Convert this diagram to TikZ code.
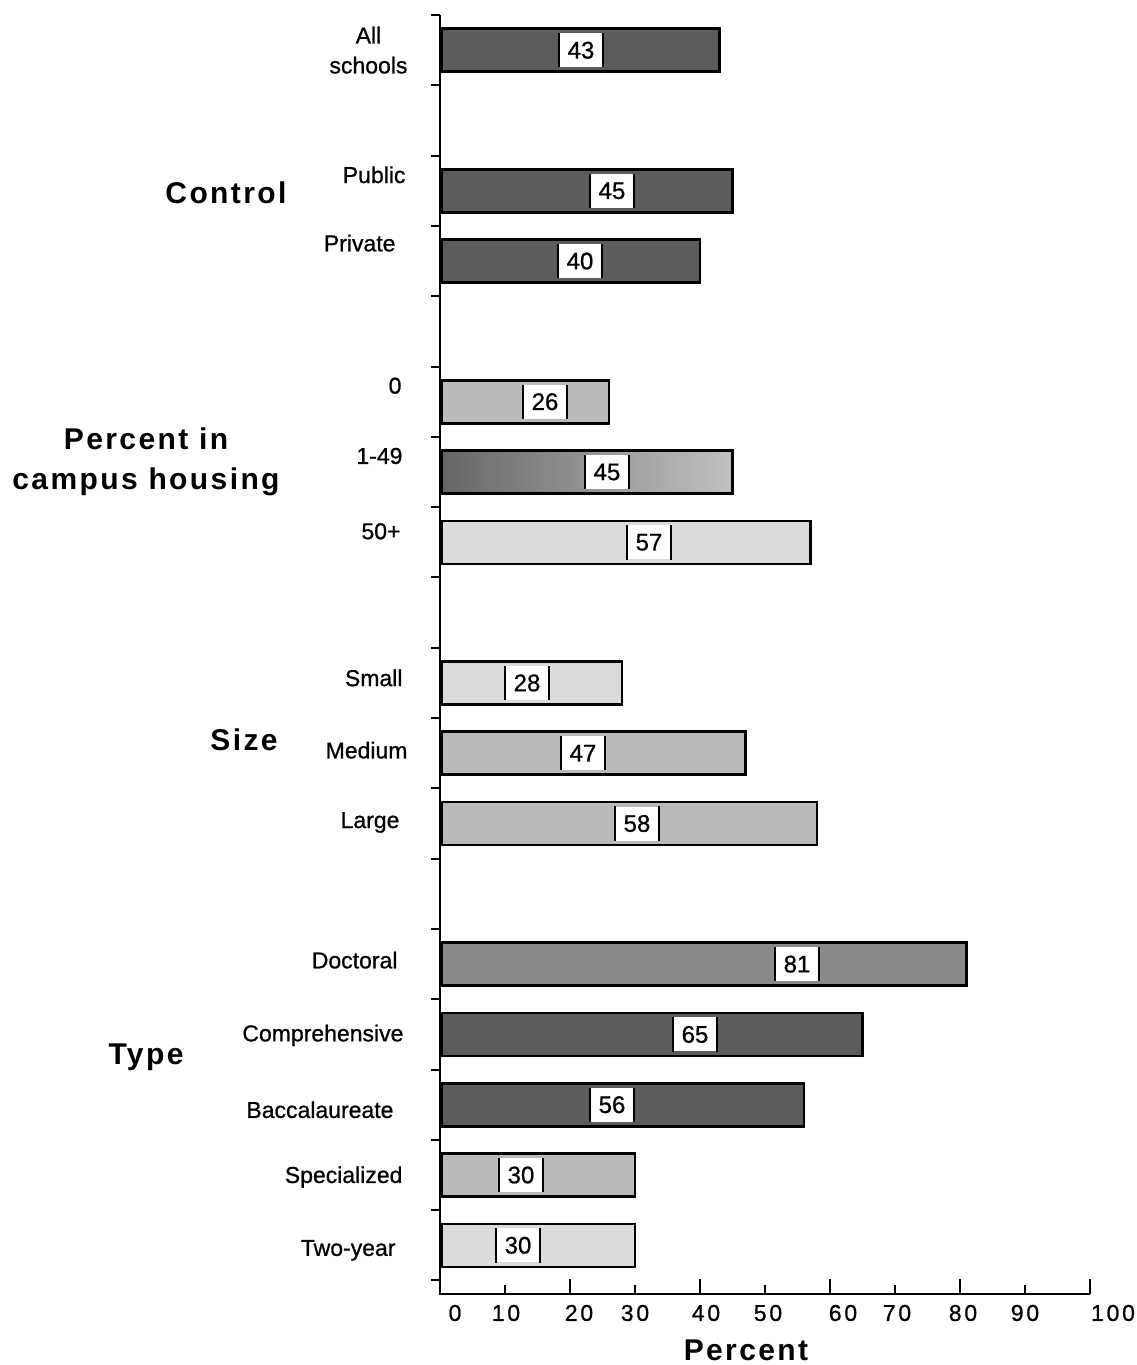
\documentclass[tikz,border=0pt]{standalone}
\usepackage{fontspec}
\setmainfont{Liberation Sans}
\usetikzlibrary{positioning}

\tikzset{
  axis/.style={draw=black, line width=2pt},
  bar/.style={draw=black, line width=2.6pt},
  shA/.style={fill=black!64},
  shB/.style={fill=black!46},
  shC/.style={fill=black!27},
  shD/.style={fill=black!14},
  shmix/.style={left color=black!60, right color=black!24},
  numbox/.style={fill=white, inner sep=0pt, minimum width=44pt, minimum height=34pt,
    font=\fontsize{24}{24}\selectfont\addfontfeature{FakeBold=0.8}},
  catlabel/.style={anchor=east, align=center, font=\fontsize{23}{30}\selectfont\addfontfeature{FakeBold=0.8}},
  grouplabel/.style={align=center, font=\fontsize{30}{40}\selectfont\bfseries\addfontfeature{LetterSpace=8}},
  ticklabel/.style={font=\fontsize{23}{23}\selectfont\addfontfeature{LetterSpace=12,FakeBold=0.8}},
}

\begin{document}
\begin{tikzpicture}[x=1pt,y=-1pt]
\useasboundingbox (0,0) rectangle (1136,1365);

% axes
\coordinate (top) at (440,15);
\coordinate (origin) at (440,1294);
\coordinate (xend) at (1090,1294);
\draw[axis] (top) -- (origin) -- (xend);
\foreach \k in {0,...,18}
  \draw[axis] (440,15+70.3*\k) -- ++(-9,0);
\foreach \v in {10,30,...,90}
  \draw[axis] (440+6.5*\v,1294) -- ++(0,-9);
\foreach \v in {20,40,...,100}
  \draw[axis] (440+6.5*\v,1294) -- ++(0,-15);
\foreach \v/\px in {0/455,10/506,20/579,30/635,40/706,50/768,60/843,70/897,80/963,90/1025,100/1113}
  \node[ticklabel] (t\v) at (\px,1313) {\v};
\node[grouplabel] (xtitle) at (746,1350) {Percent};

% bars: slot / value / box x / shade / label x / label dy / label
\foreach \slot/\val/\bx/\sh/\lx/\ldy/\txt [count=\i] in {
    0/43/581/shA/411/0/{All\\schools},
    2/45/612/shA/409/-16/Public,
    3/40/580/shA/399/-18/Private,
    5/26/545/shC/405/-16/0,
    6/45/607/shmix/406/-16/1-49,
    7/57/649/shD/404/-11/50+,
    9/28/527/shD/406/-5/Small,
   10/47/583/shC/411/-3/Medium,
   11/58/637/shC/403/-1/Large,
   13/81/797/shB/401/-4/Doctoral,
   14/65/695/shA/407/1/Comprehensive,
   15/56/612/shA/397/5/Baccalaureate,
   16/30/521/shC/406/2/Specialized,
   17/30/518/shD/399/5/Two-year}
{
  \pgfmathsetmacro{\yc}{50.2+70.3*\slot}
  \draw[bar,\sh] (442,\yc-21.5) rectangle (440+6.5*\val,\yc+21.5);
  \node[numbox] (n\i) at (\bx,\yc) {\val};
  \draw[line width=2pt] (n\i.north west) -- (n\i.south west)
                        (n\i.north east) -- (n\i.south east);
  \node[catlabel] (c\i) at (\lx,\yc+\ldy) {\txt};
}

% group labels
\node[grouplabel] (control) at (226,193) {Control};
\node[grouplabel] (housing) at (146,462) {Percent in\\campus housing};
\node[grouplabel] (size) at (244,740) {Size};
\node[grouplabel] (type) at (146,1057) {Type};
\end{tikzpicture}
\end{document}
